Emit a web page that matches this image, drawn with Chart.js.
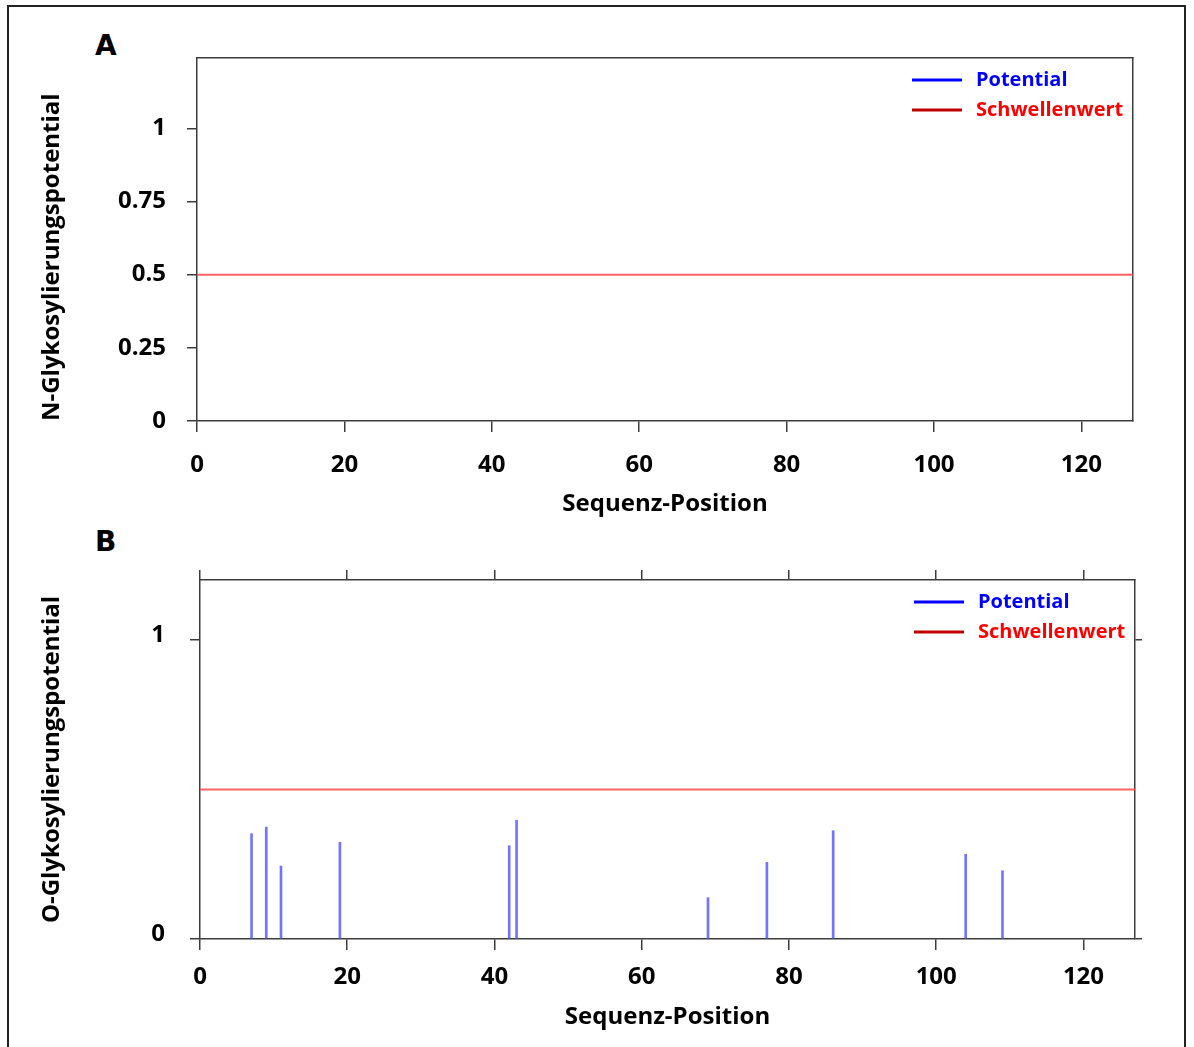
<!DOCTYPE html>
<html>
<head>
<meta charset="utf-8">
<script src="https://cdn.jsdelivr.net/npm/chart.js@4.4.1/dist/chart.umd.min.js"></script>
<style>
  body { margin: 0; background: #fff; }
  #page { position: relative; width: 1194px; height: 1047px; overflow: hidden; }
  #frame { position: absolute; left: 7px; top: 5px; width: 1179px; height: 1100px; border: 2px solid #222; box-sizing: border-box; }
  .panel { position: absolute; left: 0; }
  .letter { position: absolute; left: 95px; font: bold 28px "DejaVu Sans"; line-height: 28px; color: #000; }
</style>
</head>
<body>
<div id="page">
  <div id="frame"></div>
  <div class="letter" style="top:32px">A</div>
  <div class="letter" style="top:528px">B</div>
  <canvas id="chartN" class="panel" style="top:0" width="1194" height="530"></canvas>
  <canvas id="chartO" class="panel" style="top:530px" width="1194" height="517"></canvas>
</div>

<script>
// values
const xMax = 127;
const xTicks = [0, 20, 40, 60, 80, 100, 120];
const threshold = 0.5;

// A: N-glycosylation (no sites)
const nPositions = [0];
const nPotential = [0];
const nYTicks = [0, 0.25, 0.5, 0.75, 1];

// B: O-glycosylation
const oPositions = [7, 9, 11, 19, 42, 43, 69, 77, 86, 104, 109];
const oPotential = [0.352, 0.374, 0.244, 0.323, 0.312, 0.397, 0.138, 0.256, 0.362, 0.283, 0.228];
const oYTicks = [0, 1];

const legendLabels = ['Potential', 'Schwellenwert'];

const axisColor = '#3c3c3c';
const labelFont = { family: 'Open Sans', size: 24, weight: 'bold' };
const titleFont = { family: 'Open Sans', size: 24, weight: 'bold' };

// legend drawn inside the plot, top right
const insideLegend = {
  id: 'insideLegend',
  afterDraw(chart, args, opts) {
    const ctx = chart.ctx;
    const area = chart.chartArea;
    chart.data.datasets.forEach((ds, i) => {
      const x = area.right + opts.dx;
      const y = area.top + opts.dy + i * 30;
      ctx.save();
      ctx.strokeStyle = ds.legendLine;
      ctx.lineWidth = 3;
      ctx.beginPath();
      ctx.moveTo(x, y);
      ctx.lineTo(x + 50, y);
      ctx.stroke();
      ctx.fillStyle = ds.legendText;
      ctx.font = 'bold 20px "Open Sans"';
      ctx.textBaseline = 'middle';
      ctx.fillText(ds.label, x + 64, y);
      ctx.restore();
    });
  }
};

function fixTicks(values) {
  return function (scale) {
    scale.ticks = values.map(v => ({ value: v }));
  };
}

function buildChart(id, opt) {
  const ctx = document.getElementById(id).getContext('2d');
  return new Chart(ctx, {
    type: 'bar',
    data: {
      datasets: [{
        type: 'bar',
        label: legendLabels[0],
        data: opt.positions.map((p, i) => ({ x: p, y: opt.values[i] })),
        backgroundColor: 'rgba(90, 90, 255, 0.85)',
        barThickness: 2,
        legendLine: '#0000ff',
        legendText: '#0000ff'
      }, {
        type: 'line',
        label: legendLabels[1],
        data: [{ x: 0, y: threshold }, { x: xMax, y: threshold }],
        borderColor: 'rgba(255, 70, 70, 0.85)',
        borderWidth: 2,
        pointRadius: 0,
        legendLine: '#c00000',
        legendText: '#ff0000'
      }]
    },
    options: {
      responsive: false,
      animation: false,
      layout: { padding: opt.padding },
      plugins: {
        legend: { display: false },
        tooltip: { enabled: false },
        insideLegend: { dx: -221, dy: 22 }
      },
      scales: {
        x: {
          type: 'linear',
          position: 'bottom',
          min: 0,
          max: xMax,
          offset: false,
          afterBuildTicks: fixTicks(xTicks),
          afterFit: s => { s.height = opt.xHeight; },
          ticks: { color: '#000', font: labelFont, padding: opt.xLabelPad, maxRotation: 0 },
          grid: { drawOnChartArea: false, offset: false, tickLength: 11, color: axisColor, lineWidth: 1.5 },
          border: { color: axisColor, width: 1.5 },
          title: { display: true, text: 'Sequenz-Position', color: '#000', font: titleFont, padding: { top: 0, bottom: opt.xTitlePad } }
        },
        x2: {
          type: 'linear',
          position: 'top',
          min: 0,
          max: xMax,
          offset: false,
          afterBuildTicks: fixTicks(xTicks),
          afterFit: s => { s.height = 0; },
          ticks: { display: false },
          grid: { drawOnChartArea: false, offset: false, drawTicks: opt.topTicks, tickLength: 10, color: axisColor, lineWidth: 1.5 },
          border: { color: axisColor, width: 1.5 }
        },
        y: {
          position: 'left',
          min: 0,
          max: opt.yMax,
          afterBuildTicks: fixTicks(opt.yTicks),
          afterFit: s => { s.width = opt.yWidth; },
          ticks: { color: '#000', font: labelFont, padding: opt.yLabelPad, labelOffset: opt.yLabelOffset, callback: v => String(v) },
          grid: { drawOnChartArea: false, tickLength: 10, color: axisColor, lineWidth: 1.5 },
          border: { color: axisColor, width: 1.5 },
          title: { display: true, text: opt.yTitle, align: opt.yTitleAlign, color: '#000', font: titleFont, padding: { top: 38, bottom: 0 } }
        },
        y2: {
          position: 'right',
          min: 0,
          max: opt.yMax,
          afterBuildTicks: fixTicks(opt.yTicks),
          afterFit: s => { s.width = 0; },
          ticks: { display: false },
          grid: { drawOnChartArea: false, drawTicks: opt.rightTicks, tickLength: 7, color: axisColor, lineWidth: 1.5 },
          border: { color: axisColor, width: 1.5 }
        }
      }
    },
    plugins: [insideLegend]
  });
}

buildChart('chartN', {
  positions: nPositions,
  values: nPotential,
  yMax: 1.24,
  yTicks: nYTicks,
  yTitle: 'N-Glykosylierungspotential',
  yTitleAlign: 'start',
  padding: { left: 0, top: 58, right: 61, bottom: 0 },
  xHeight: 109,
  yWidth: 197,
  xLabelPad: 19,
  xTitlePad: 11,
  yLabelPad: 21,
  yLabelOffset: 0,
  topTicks: false,
  rightTicks: false
});

buildChart('chartO', {
  positions: oPositions,
  values: oPotential,
  yMax: 1.2,
  yTicks: oYTicks,
  yTitle: 'O-Glykosylierungspotential',
  yTitleAlign: 'center',
  padding: { left: 0, top: 50, right: 59, bottom: 0 },
  xHeight: 108,
  yWidth: 200,
  xLabelPad: 13,
  xTitlePad: 15,
  yLabelPad: 25,
  yLabelOffset: -5,
  topTicks: true,
  rightTicks: true
});
</script>
</body>
</html>
